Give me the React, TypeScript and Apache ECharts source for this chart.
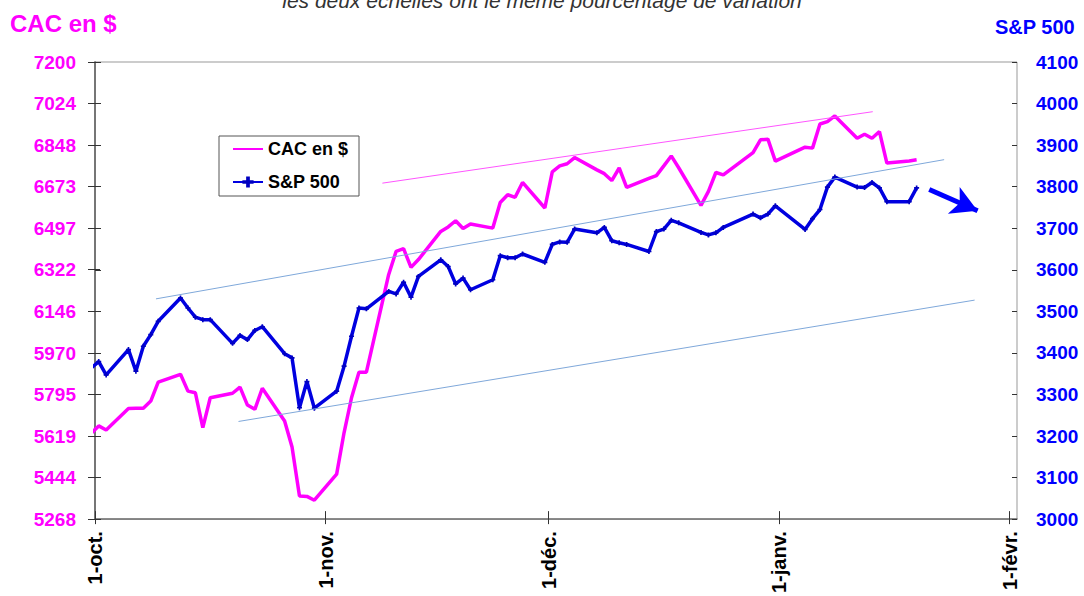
import React, { useEffect, useRef } from 'react';
import * as echarts from 'echarts';

const AXIS_START = '2020-10-01';
const AXIS_END = '2021-02-02';

const DATES = [
  '2020-09-30',
  '2020-10-01', '2020-10-02', '2020-10-05', '2020-10-06', '2020-10-07', '2020-10-08', '2020-10-09',
  '2020-10-12', '2020-10-13', '2020-10-14', '2020-10-15', '2020-10-16', '2020-10-19', '2020-10-20',
  '2020-10-21', '2020-10-22', '2020-10-23', '2020-10-26', '2020-10-27', '2020-10-28', '2020-10-29',
  '2020-10-30',
  '2020-11-02', '2020-11-03', '2020-11-04', '2020-11-05', '2020-11-06', '2020-11-09', '2020-11-10',
  '2020-11-11', '2020-11-12', '2020-11-13', '2020-11-16', '2020-11-17', '2020-11-18', '2020-11-19',
  '2020-11-20', '2020-11-23', '2020-11-24', '2020-11-25', '2020-11-26', '2020-11-27', '2020-11-30',
  '2020-12-01', '2020-12-02', '2020-12-03', '2020-12-04', '2020-12-07', '2020-12-08', '2020-12-09',
  '2020-12-10', '2020-12-11', '2020-12-14', '2020-12-15', '2020-12-16', '2020-12-17', '2020-12-18',
  '2020-12-21', '2020-12-22', '2020-12-23', '2020-12-24', '2020-12-28', '2020-12-29', '2020-12-30',
  '2020-12-31',
  '2021-01-04', '2021-01-05', '2021-01-06', '2021-01-07', '2021-01-08', '2021-01-11', '2021-01-12',
  '2021-01-13', '2021-01-14', '2021-01-15', '2021-01-18', '2021-01-19',
];

const CAC = [
  5631,
  5662, 5645, 5736, 5737, 5737, 5767, 5847, 5880, 5809, 5802, 5655, 5781, 5800, 5826,
  5750, 5732, 5821, 5683, 5573, 5366, 5364, 5348,
  5458, 5634, 5781, 5889, 5889, 6302, 6400, 6411, 6332, 6365, 6484, 6503, 6529, 6496,
  6515, 6498, 6606, 6639, 6628, 6691, 6583,
  6736, 6761, 6770, 6796, 6744, 6728, 6699, 6752, 6670, 6708, 6720, 6761, 6803, 6753,
  6594, 6653, 6733, 6723, 6817, 6871, 6874, 6781,
  6840, 6836, 6938, 6948, 6972, 6878, 6895, 6878, 6906, 6773, 6782, 6787,
];

const SPX = [
  3364,
  3379, 3347, 3408, 3356, 3416, 3444, 3476, 3532, 3508, 3486, 3480, 3480, 3423, 3442,
  3432, 3454, 3463, 3398, 3388, 3268, 3331, 3267,
  3308, 3368, 3440, 3508, 3506, 3548, 3542, 3570, 3534, 3584, 3624, 3608, 3566, 3580,
  3552, 3576, 3634, 3629, 3629, 3638, 3618,
  3661, 3667, 3666, 3698, 3689, 3702, 3670, 3665, 3661, 3644, 3692, 3698, 3719, 3713,
  3690, 3684, 3689, 3702, 3734, 3725, 3734, 3754,
  3697, 3723, 3745, 3799, 3823, 3799, 3798, 3810, 3797, 3764, 3764, 3797,
];

const LEFT_TICKS = [5268, 5444, 5619, 5795, 5970, 6146, 6322, 6497, 6673, 6848, 7024, 7200];
const RIGHT_TICKS = [3000, 3100, 3200, 3300, 3400, 3500, 3600, 3700, 3800, 3900, 4000, 4100];
const MONTH_TICK_DATES = ['2020-10-01', '2020-11-01', '2020-12-01', '2021-01-01', '2021-02-01'];
const MONTH_LABELS = ['1-oct.', '1-nov.', '1-déc.', '1-janv.', '1-févr.'];

// annotation lines, in (day since 1-oct, value) coordinates
const CAC_TREND = [[38.65, 6688], [104.6, 6990]];
const SPX_TREND_UP = [[8.2, 3530], [114.2, 3865]];
const SPX_TREND_LOW = [[19.3, 3235], [118.3, 3527]];
const SPX_ARROW = [[112.2, 3793], [118.7, 3742]];

const TITLE = 'les deux échelles ont le même pourcentage de variation';
const FONT = '"Liberation Sans", Arial, sans-serif';

const DAY = 86400000;
const t0 = Date.parse(AXIS_START + 'T00:00:00Z');
const dayOf = (s: string) => (Date.parse(s + 'T00:00:00Z') - t0) / DAY;

export default function App() {
  const ref = useRef<HTMLDivElement>(null);

  useEffect(() => {
    if (!ref.current) return;
    const chart = echarts.init(ref.current, undefined, { renderer: 'svg' });

    const xs = DATES.map((d) => dayOf(d) + 0.5);
    const cacData = xs.map((x, i) => [x, CAC[i]]);
    const spxData = xs.map((x, i) => [x, SPX[i]]);
    const monthTicks = MONTH_TICK_DATES.map(dayOf);
    const xMax = dayOf(AXIS_END);

    const baseX = {
      type: 'value' as const,
      min: 0,
      max: xMax,
      splitLine: { show: false },
    };

    const option: any = {
      animation: false,
      backgroundColor: '#ffffff',
      textStyle: { fontFamily: FONT },
      title: [
        {
          text: TITLE,
          left: 'center',
          top: -10,
          padding: 0,
          textStyle: { fontFamily: FONT, fontStyle: 'italic', fontWeight: 'normal', fontSize: 21, color: '#333333' },
        },
        {
          text: 'CAC en $',
          left: 10,
          top: 11,
          padding: 0,
          textStyle: { fontFamily: FONT, fontWeight: 'bold', fontSize: 24, color: '#FF00FF' },
        },
        {
          text: 'S&P 500',
          right: 9,
          top: 17,
          padding: 0,
          textStyle: { fontFamily: FONT, fontWeight: 'bold', fontSize: 20, color: '#0000FF' },
        },
      ],
      legend: {
        orient: 'vertical',
        left: 219,
        top: 136,
        padding: [4, 11, 5, 13],
        itemWidth: 30,
        itemHeight: 14,
        itemGap: 15,
        borderColor: '#555555',
        borderWidth: 1,
        backgroundColor: '#ffffff',
        selectedMode: false,
        textStyle: { fontFamily: FONT, fontWeight: 'bold', fontSize: 18, color: '#000000' },
        data: [
          { name: 'CAC en $', itemStyle: { opacity: 0 } },
          { name: 'S&P 500' },
        ],
      },
      grid: {
        left: 95,
        right: 67,
        top: 62,
        bottom: 75,
        show: true,
        borderColor: '#999999',
        borderWidth: 1,
        backgroundColor: 'transparent',
      },
      xAxis: [
        {
          ...baseX,
          position: 'bottom',
          axisLine: { show: true, lineStyle: { color: '#707070', width: 1.5 } },
          axisTick: { show: true, inside: false, length: 5, customValues: monthTicks, lineStyle: { color: '#333333', width: 1 } },
          axisLabel: {
            show: true,
            rotate: 90,
            margin: 12,
            customValues: monthTicks,
            fontFamily: FONT,
            fontWeight: 'bold',
            fontSize: 20,
            color: '#000000',
            formatter: (v: number) => {
              const i = monthTicks.findIndex((m) => Math.abs(m - v) < 0.01);
              return i >= 0 ? MONTH_LABELS[i] : '';
            },
          },
        },
        {
          ...baseX,
          position: 'bottom',
          axisLine: { show: false },
          axisTick: { show: true, inside: true, length: 8, customValues: monthTicks, lineStyle: { color: '#333333', width: 1 } },
          axisLabel: { show: false },
        },
      ],
      yAxis: [
        {
          type: 'value',
          position: 'left',
          min: 5268,
          max: 7200,
          splitLine: { show: false },
          axisLine: { show: true, lineStyle: { color: '#707070', width: 1.5 } },
          axisTick: { show: true, inside: false, length: 7, customValues: LEFT_TICKS, lineStyle: { color: '#333333' } },
          axisLabel: {
            show: true,
            margin: 19,
            customValues: LEFT_TICKS,
            fontFamily: FONT,
            fontWeight: 'bold',
            fontSize: 19,
            color: '#FF00FF',
            formatter: (v: number) => String(Math.round(v)),
          },
        },
        {
          type: 'value',
          position: 'right',
          min: 3000,
          max: 4100,
          interval: 100,
          splitLine: { show: false },
          axisLine: { show: true, lineStyle: { color: '#707070', width: 1.5 } },
          axisTick: { show: true, inside: false, length: 6, customValues: RIGHT_TICKS, lineStyle: { color: '#333333' } },
          axisLabel: {
            show: true,
            margin: 19,
            customValues: RIGHT_TICKS,
            fontFamily: FONT,
            fontWeight: 'bold',
            fontSize: 19,
            color: '#0000FF',
            formatter: (v: number) => String(Math.round(v)),
          },
        },
        {
          type: 'value',
          position: 'left',
          min: 5268,
          max: 7200,
          splitLine: { show: false },
          axisLine: { show: false },
          axisTick: { show: true, inside: true, length: 5, customValues: LEFT_TICKS, lineStyle: { color: '#333333' } },
          axisLabel: { show: false },
        },
        {
          type: 'value',
          position: 'right',
          min: 3000,
          max: 4100,
          interval: 100,
          splitLine: { show: false },
          axisLine: { show: false },
          axisTick: { show: true, inside: true, length: 5, customValues: RIGHT_TICKS, lineStyle: { color: '#333333' } },
          axisLabel: { show: false },
        },
      ],
      series: [
        {
          name: 'CAC en $',
          type: 'line',
          xAxisIndex: 0,
          yAxisIndex: 0,
          data: cacData,
          symbol: 'none',
          lineStyle: { color: '#FF00FF', width: 3.5 },
          itemStyle: { color: '#FF00FF' },
          emphasis: { disabled: true },
          markLine: {
            silent: true,
            symbol: ['none', 'none'],
            label: { show: false },
            emphasis: { disabled: true },
            lineStyle: { color: '#FF55FF', width: 1, type: 'solid' },
            data: [[{ coord: CAC_TREND[0] }, { coord: CAC_TREND[1] }]],
          },
        },
        {
          name: 'S&P 500',
          type: 'line',
          xAxisIndex: 0,
          yAxisIndex: 1,
          data: spxData,
          symbol: 'path://M2,0h2v2h2v2h-2v2h-2v-2h-2v-2h2z',
          symbolSize: 5,
          showSymbol: true,
          lineStyle: { color: '#0000E0', width: 3.5 },
          itemStyle: { color: '#0000C0' },
          emphasis: { disabled: true },
          markLine: {
            silent: true,
            symbol: ['none', 'none'],
            label: { show: false },
            emphasis: { disabled: true },
            lineStyle: { color: '#7FA8DA', width: 1, type: 'solid' },
            data: [
              [{ coord: SPX_TREND_UP[0] }, { coord: SPX_TREND_UP[1] }],
              [{ coord: SPX_TREND_LOW[0] }, { coord: SPX_TREND_LOW[1] }],
              [
                { coord: SPX_ARROW[0], symbol: 'none', lineStyle: { color: '#0000FF', width: 5, type: 'solid' } },
                { coord: SPX_ARROW[1], symbol: 'arrow', symbolSize: [22, 26] },
              ],
            ],
          },
        },
      ],
    };

    chart.setOption(option);
    return () => chart.dispose();
  }, []);

  return (
    <div
      ref={ref}
      style={{ position: 'absolute', left: 0, top: 0, width: 1084, height: 596, background: '#fff' }}
    />
  );
}
